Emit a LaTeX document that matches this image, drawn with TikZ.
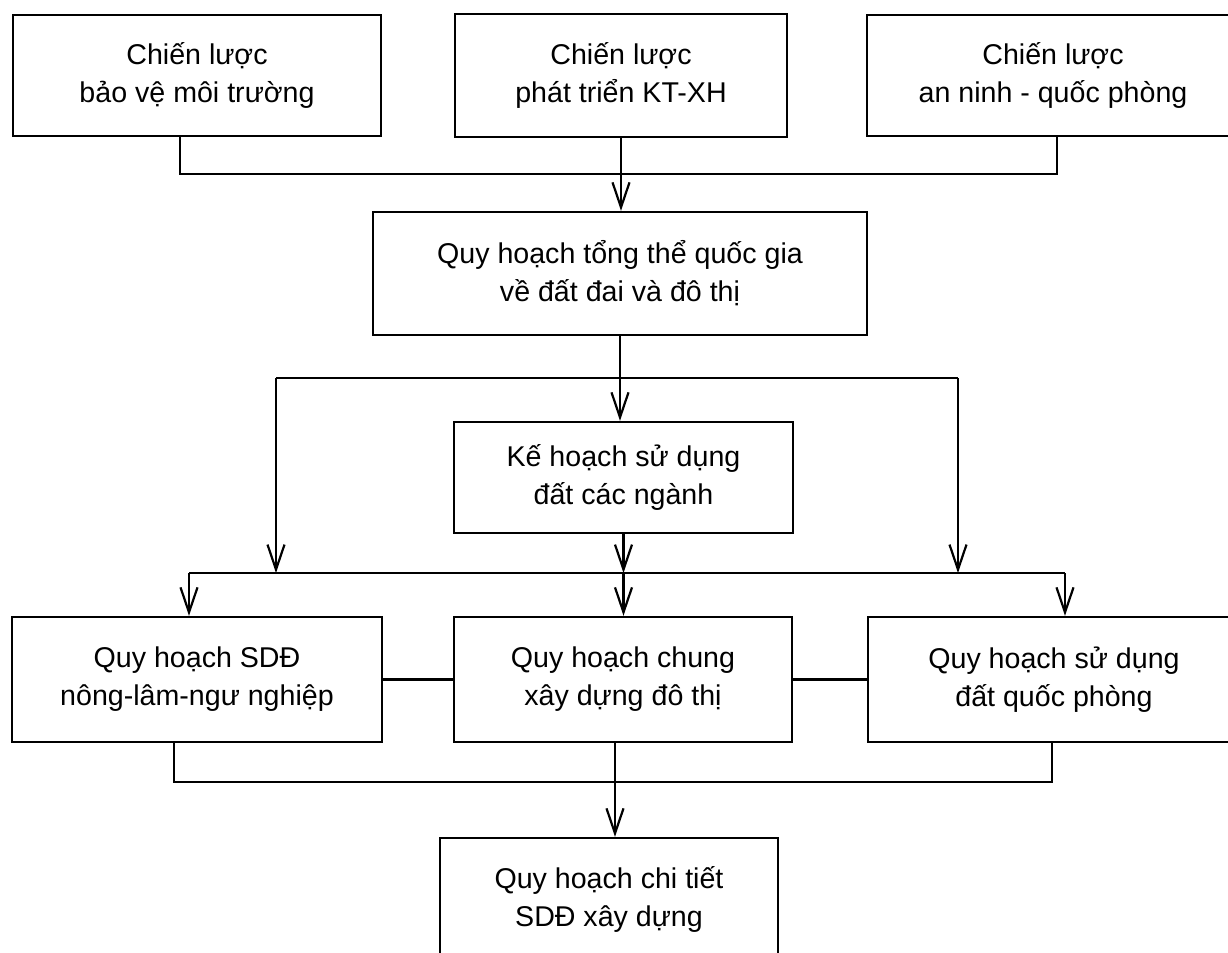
\documentclass[tikz,border=0pt]{standalone}
\usepackage{fontspec}
\setmainfont{Liberation Sans}
\usetikzlibrary{arrows.meta}
\begin{document}
\begin{tikzpicture}[x=0.5pt,y=-0.5pt,
  box/.style={draw, line width=1.2pt, inner sep=0pt, align=center,
    font=\fontsize{14.3pt}{19pt}\selectfont},
  link/.style={line width=1.1pt},
  arr/.style={line width=1.1pt, -{Straight Barb[length=12.5pt,width=8.5pt,line width=1.1pt]}}]
\path[use as bounding box] (0,0) rectangle (1228,953);
\begin{scope}
\clip (0,0) rectangle (1228,953);
% top row: strategies
\node[box, minimum width=184pt, minimum height=60.5pt] (b1) at (197,75.5)
  {Chiến lược\\bảo vệ môi trường};
\node[box, minimum width=166pt, minimum height=61.5pt] (b2) at (621,75.5)
  {Chiến lược\\phát triển KT-XH};
\node[box, minimum width=186pt, minimum height=60.5pt] (b3) at (1053,75.5)
  {Chiến lược\\an ninh - quốc phòng};
% national master plan
\node[box, minimum width=247pt, minimum height=61.5pt] (b4) at (620,273.5)
  {Quy hoạch tổng thể quốc gia\\về đất đai và đô thị};
% sector land use plan
\node[box, minimum width=169.5pt, minimum height=55.5pt] (b5) at (623.5,477.5)
  {Kế hoạch sử dụng\\đất các ngành};
% sector plans
\node[box, minimum width=185pt, minimum height=62.5pt] (b6) at (197,679.5)
  {Quy hoạch SDĐ\\nông-lâm-ngư nghiệp};
\node[box, minimum width=169pt, minimum height=62.5pt] (b7) at (623,679.5)
  {Quy hoạch chung\\xây dựng đô thị};
\node[box, minimum width=186pt, minimum height=62.5pt] (b8) at (1054,679.5)
  {Quy hoạch sử dụng\\đất quốc phòng};
% detailed plan
\node[box, minimum width=169pt, minimum height=61pt] (b9) at (609,899)
  {Quy hoạch chi tiết\\SDĐ xây dựng};

% junction points
\coordinate (tL) at (180,174);
\coordinate (tR) at (1057,174);
\coordinate (mL) at (276,378);
\coordinate (mR) at (958,378);
\coordinate (busL) at (189,573);
\coordinate (busR) at (1065,573);
\coordinate (dL) at (174,782);
\coordinate (dM) at (615,782);
\coordinate (dR) at (1052,782);

% strategies into the national plan
\draw[link] (tL |- b1.south) -- (tL) -- (tR) -- (tR |- b3.south);
\draw[arr] (b2.south) -- (b2.south |- b4.north);

% national plan down to the sector level
\draw[arr] (b4.south) -- (b4.south |- b5.north);
\draw[link] (mL) -- (mR);
\draw[arr] (mL) -- (mL |- busL);
\draw[arr] (mR) -- (mR |- busR);
\draw[arr] (b5.south) -- (b5.south |- busL);
\draw[link] (busL) -- (busR);
\draw[arr] (busL) -- (busL |- b6.north);
\draw[arr] (b5.south |- busL) -- (b5.south |- b7.north);
\draw[arr] (busR) -- (busR |- b8.north);

% links between sector plans
\draw[link] (b6.east) -- (b7.west);
\draw[link] (b7.east) -- (b8.west);

% sector plans into the detailed plan
\draw[link] (dL |- b6.south) -- (dL) -- (dR) -- (dR |- b8.south);
\draw[arr] (dM |- b7.south) -- (dM |- b9.north);
\end{scope}
\end{tikzpicture}
\end{document}
